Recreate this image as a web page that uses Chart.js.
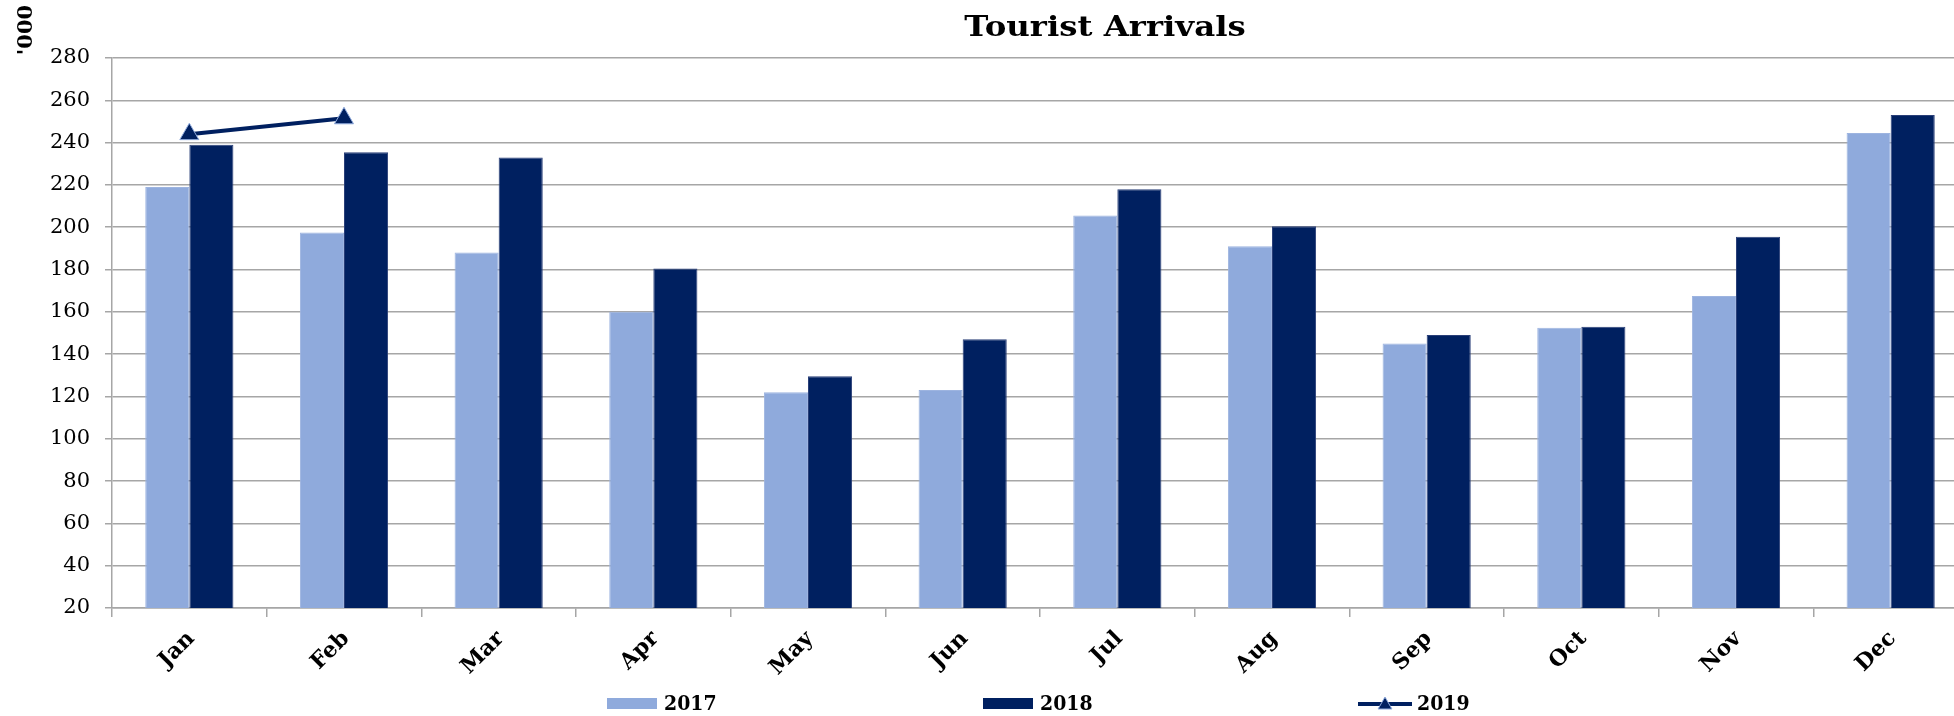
<!DOCTYPE html>
<html>
<head>
<meta charset="utf-8">
<title>Tourist Arrivals</title>
<script src="https://cdn.jsdelivr.net/npm/chart.js@4.4.1/dist/chart.umd.min.js"></script>
<style>
  html, body { margin: 0; padding: 0; background: #fff; overflow: hidden; }
  #wrap { width: 1954px; height: 716px; overflow: hidden; }
  canvas { display: block; }
</style>
</head>
<body>
<div id="wrap"><canvas id="chart" width="1980" height="716"></canvas></div>
<script>
const months = ['Jan', 'Feb', 'Mar', 'Apr', 'May', 'Jun', 'Jul', 'Aug', 'Sep', 'Oct', 'Nov', 'Dec'];
const arrivals2017 = [219, 197.5, 188, 160, 122, 123, 205.5, 191, 145, 152.5, 167.5, 244.5];
const arrivals2018 = [239, 235.5, 233, 180.5, 129.5, 147, 218, 200.5, 149, 153, 195.5, 253];
const arrivals2019 = [244, 251.5, null, null, null, null, null, null, null, null, null, null];

const LIGHT_BLUE = '#8faadc';
const NAVY = '#002060';
const GRID = '#a6a6a6';
const SERIF = '"DejaVu Serif", "Liberation Serif", serif';
const SERIF_COND = '"DejaVu Serif Condensed", "DejaVu Serif", serif';

// title, the '000 unit label and the legend are placed by hand
const overlay = {
  id: 'overlay',
  afterDraw(chart) {
    const ctx = chart.ctx;
    ctx.save();
    ctx.fillStyle = '#000';
    ctx.textAlign = 'center';
    ctx.textBaseline = 'middle';
    // wide heavy slab look for the heading
    ctx.save();
    ctx.translate(1105, 29);
    ctx.scale(1.2, 1);
    ctx.font = 'bold 27px ' + SERIF;
    ctx.fillText('Tourist Arrivals', 0, 0);
    ctx.restore();

    ctx.translate(27, 30);
    ctx.rotate(-Math.PI / 2);
    ctx.font = 'bold 21px ' + SERIF;
    ctx.fillText("'000", 0, 0);
    ctx.restore();

    const legendX = [607, 983, 1358];
    const ly = 704;
    chart.data.datasets.forEach((ds, i) => {
      const x = legendX[i];
      let textX;
      ctx.save();
      if (ds.type === 'line') {
        ctx.strokeStyle = ds.borderColor;
        ctx.lineWidth = 4;
        ctx.beginPath();
        ctx.moveTo(x, ly);
        ctx.lineTo(x + 54, ly);
        ctx.stroke();
        ctx.fillStyle = ds.pointBackgroundColor;
        ctx.strokeStyle = ds.pointBorderColor;
        ctx.lineWidth = 1;
        Chart.helpers.drawPoint(ctx, { pointStyle: 'triangle', radius: 8, borderWidth: 1, rotation: 0 }, x + 27, ly + 1);
        textX = x + 59;
      } else {
        ctx.fillStyle = ds.backgroundColor;
        ctx.fillRect(x, ly - 6, 50, 11);
        textX = x + 57;
      }
      ctx.fillStyle = '#000';
      ctx.font = 'bold 21px ' + SERIF_COND;
      ctx.textAlign = 'left';
      ctx.textBaseline = 'middle';
      ctx.fillText(ds.label, textX, ly + 1);
      ctx.restore();
    });
  }
};

new Chart(document.getElementById('chart'), {
  data: {
    labels: months,
    datasets: [
      {
        type: 'bar',
        label: '2017',
        data: arrivals2017,
        backgroundColor: LIGHT_BLUE,
        borderColor: '#9db4e0',
        borderWidth: 1,
        categoryPercentage: 0.57,
        barPercentage: 1.0
      },
      {
        type: 'bar',
        label: '2018',
        data: arrivals2018,
        backgroundColor: NAVY,
        borderColor: '#2a3f78',
        borderWidth: 1,
        categoryPercentage: 0.57,
        barPercentage: 1.0
      },
      {
        type: 'line',
        label: '2019',
        data: arrivals2019,
        order: -1,
        borderColor: NAVY,
        borderWidth: 4,
        pointStyle: 'triangle',
        pointRadius: 11,
        pointBackgroundColor: NAVY,
        pointBorderColor: LIGHT_BLUE,
        pointBorderWidth: 1,
        spanGaps: false,
        fill: false
      }
    ]
  },
  options: {
    responsive: false,
    animation: false,
    layout: { padding: { top: 58, right: 8, left: 0, bottom: 0 } },
    plugins: {
      legend: { display: false },
      title: { display: false },
      tooltip: { enabled: false }
    },
    scales: {
      x: {
        grid: { offset: true, drawOnChartArea: false, drawTicks: true, tickLength: 9, color: GRID, lineWidth: 1.5 },
        border: { color: GRID, width: 1.5 },
        ticks: {
          maxRotation: 45,
          minRotation: 45,
          padding: 9,
          labelOffset: 2,
          color: '#000',
          font: { family: SERIF, size: 22, weight: 'bold' }
        },
        afterFit(scale) { scale.height = 108; }
      },
      y: {
        min: 20,
        max: 280,
        ticks: {
          stepSize: 20,
          padding: 15,
          color: '#000',
          font: { family: SERIF, size: 21 }
        },
        grid: { color: GRID, lineWidth: 1.5, tickLength: 7 },
        border: { color: GRID, width: 1.5 },
        afterFit(scale) { scale.width = 112; }
      }
    }
  },
  plugins: [overlay]
});
</script>
</body>
</html>
